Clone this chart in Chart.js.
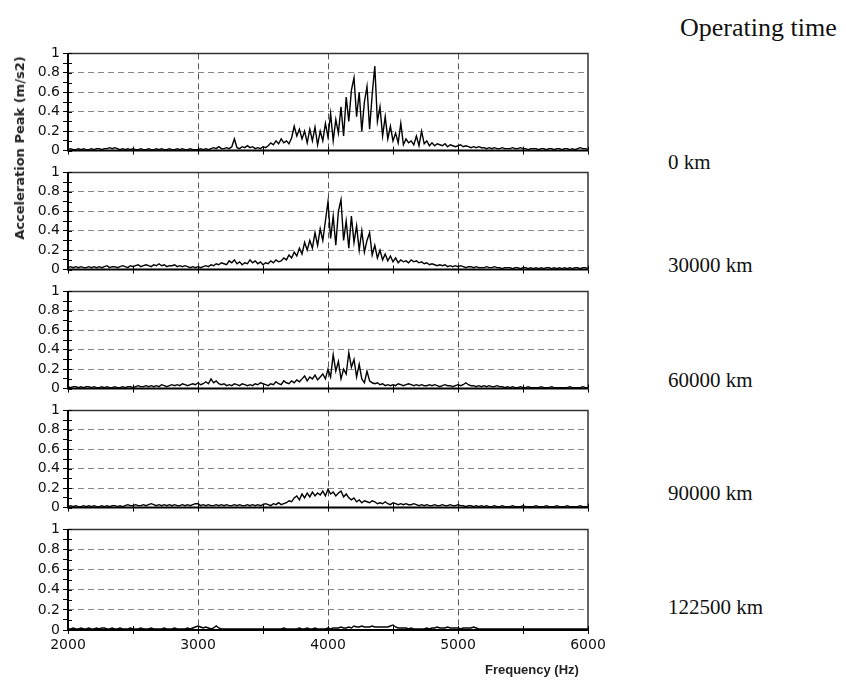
<!DOCTYPE html>
<html>
<head>
<meta charset="utf-8">
<script src="https://cdn.jsdelivr.net/npm/chart.js@4.4.1/dist/chart.umd.min.js"></script>
<style>
  body { margin: 0; background: #fff; }
  #wrap { position: relative; width: 846px; height: 684px; overflow: hidden; }
  canvas { position: absolute; left: 0; }
  .lbl { position: absolute; white-space: nowrap; color: #111; }
  .run { font-family: "Liberation Serif", serif; font-size: 21px; line-height: 21px; }
</style>
</head>
<body>
<div id="wrap"></div>
<script>
// spectra sampled every 20 Hz, 2000..6000 Hz
const FREQ_START = 2000;
const FREQ_STEP = 20;
const xTicks = [2000, 3000, 4000, 5000, 6000];
const yTicks = [0, 0.2, 0.4, 0.6, 0.8, 1];
const runLabels = ['0 km', '30000 km', '60000 km', '90000 km', '122500 km'];

const acc0km = [
  0.01,0.02,0.01,0.01,0.02,0.01,0.02,0.01,0.01,0.02,
  0.01,0.02,0.02,0.01,0.02,0.02,0.03,0.02,0.03,0.02,
  0.01,0.02,0.01,0.02,0.01,0.02,0.01,0.01,0.02,0.01,
  0.01,0.02,0.01,0.01,0.02,0.01,0.02,0.01,0.01,0.02,
  0.01,0.01,0.02,0.01,0.02,0.01,0.01,0.02,0.01,0.01,
  0.01,0.02,0.01,0.02,0.01,0.02,0.03,0.02,0.04,0.02,
  0.02,0.03,0.02,0.04,0.12,0.03,0.02,0.04,0.03,0.05,
  0.03,0.04,0.02,0.03,0.02,0.04,0.03,0.05,0.08,0.06,
  0.10,0.07,0.12,0.08,0.10,0.07,0.13,0.25,0.15,0.22,
  0.12,0.20,0.08,0.22,0.10,0.24,0.06,0.20,0.10,0.28,
  0.14,0.38,0.10,0.32,0.18,0.45,0.15,0.55,0.30,0.62,
  0.75,0.35,0.60,0.20,0.50,0.66,0.22,0.58,0.87,0.30,
  0.45,0.15,0.35,0.12,0.25,0.10,0.18,0.08,0.28,0.06,
  0.12,0.08,0.10,0.06,0.15,0.05,0.20,0.07,0.10,0.05,
  0.08,0.05,0.07,0.06,0.05,0.07,0.04,0.06,0.05,0.04,
  0.05,0.06,0.04,0.05,0.04,0.03,0.04,0.03,0.04,0.03,
  0.03,0.02,0.03,0.02,0.03,0.02,0.02,0.03,0.02,0.02,
  0.02,0.03,0.02,0.02,0.03,0.02,0.02,0.01,0.02,0.02,
  0.02,0.01,0.02,0.02,0.01,0.02,0.02,0.01,0.02,0.02,
  0.01,0.02,0.02,0.01,0.02,0.01,0.02,0.03,0.02,0.02,
  0.01
];

const acc30000km = [
  0.02,0.03,0.02,0.03,0.02,0.03,0.02,0.02,0.03,0.02,
  0.03,0.02,0.03,0.02,0.03,0.04,0.02,0.03,0.03,0.02,
  0.03,0.04,0.03,0.02,0.04,0.03,0.04,0.05,0.03,0.04,
  0.05,0.04,0.03,0.05,0.04,0.06,0.04,0.05,0.03,0.04,
  0.04,0.05,0.03,0.04,0.03,0.04,0.03,0.02,0.03,0.02,
  0.03,0.02,0.03,0.04,0.03,0.05,0.04,0.06,0.05,0.07,
  0.06,0.05,0.09,0.07,0.10,0.06,0.08,0.05,0.07,0.06,
  0.10,0.07,0.09,0.06,0.08,0.05,0.07,0.06,0.09,0.07,
  0.10,0.08,0.09,0.12,0.10,0.15,0.12,0.18,0.14,0.22,
  0.16,0.28,0.20,0.30,0.22,0.38,0.25,0.42,0.30,0.50,
  0.70,0.32,0.55,0.25,0.60,0.72,0.30,0.50,0.22,0.55,
  0.28,0.45,0.20,0.40,0.18,0.30,0.38,0.15,0.25,0.12,
  0.20,0.10,0.16,0.09,0.14,0.08,0.12,0.07,0.10,0.08,
  0.09,0.07,0.10,0.08,0.09,0.07,0.08,0.06,0.07,0.05,
  0.06,0.05,0.04,0.05,0.04,0.05,0.03,0.04,0.03,0.04,
  0.03,0.04,0.03,0.02,0.03,0.03,0.02,0.03,0.02,0.02,
  0.02,0.03,0.02,0.02,0.03,0.02,0.02,0.01,0.02,0.02,
  0.02,0.01,0.02,0.02,0.01,0.02,0.02,0.01,0.02,0.01,
  0.02,0.01,0.02,0.01,0.02,0.02,0.01,0.02,0.01,0.02,
  0.01,0.02,0.01,0.02,0.01,0.02,0.02,0.01,0.02,0.02,
  0.01
];

const acc60000km = [
  0.02,0.01,0.02,0.02,0.01,0.02,0.01,0.02,0.02,0.01,
  0.02,0.01,0.01,0.02,0.01,0.02,0.01,0.01,0.02,0.01,
  0.01,0.02,0.01,0.02,0.02,0.01,0.02,0.03,0.02,0.02,
  0.03,0.02,0.03,0.02,0.03,0.02,0.04,0.03,0.02,0.03,
  0.04,0.03,0.04,0.03,0.05,0.04,0.03,0.04,0.05,0.04,
  0.06,0.04,0.05,0.07,0.05,0.10,0.06,0.08,0.05,0.04,
  0.05,0.03,0.04,0.03,0.05,0.04,0.03,0.05,0.04,0.03,
  0.04,0.03,0.05,0.04,0.06,0.05,0.04,0.03,0.05,0.04,
  0.07,0.05,0.04,0.08,0.06,0.05,0.08,0.06,0.09,0.07,
  0.10,0.13,0.08,0.12,0.10,0.14,0.09,0.12,0.15,0.10,
  0.20,0.12,0.35,0.18,0.28,0.10,0.20,0.15,0.37,0.22,
  0.30,0.12,0.25,0.10,0.06,0.18,0.08,0.06,0.05,0.06,
  0.04,0.05,0.03,0.04,0.03,0.04,0.03,0.05,0.04,0.03,
  0.04,0.05,0.04,0.03,0.04,0.03,0.04,0.03,0.03,0.04,
  0.03,0.04,0.03,0.02,0.03,0.04,0.03,0.03,0.02,0.03,
  0.04,0.03,0.04,0.06,0.04,0.03,0.03,0.02,0.03,0.02,
  0.03,0.02,0.03,0.02,0.02,0.03,0.02,0.02,0.01,0.02,
  0.01,0.02,0.01,0.01,0.02,0.01,0.01,0.02,0.01,0.01,
  0.01,0.01,0.02,0.01,0.01,0.01,0.02,0.01,0.01,0.01,
  0.01,0.01,0.01,0.02,0.01,0.01,0.01,0.01,0.02,0.01,
  0.01
];

const acc90000km = [
  0.01,0.02,0.01,0.02,0.01,0.01,0.02,0.01,0.02,0.01,
  0.02,0.01,0.01,0.02,0.01,0.02,0.01,0.02,0.02,0.01,
  0.02,0.01,0.02,0.03,0.02,0.02,0.03,0.02,0.02,0.03,
  0.02,0.03,0.04,0.03,0.02,0.03,0.02,0.03,0.02,0.03,
  0.02,0.03,0.02,0.02,0.03,0.02,0.03,0.02,0.03,0.04,
  0.04,0.02,0.03,0.02,0.03,0.02,0.02,0.03,0.02,0.03,
  0.02,0.03,0.02,0.02,0.03,0.02,0.03,0.02,0.02,0.03,
  0.02,0.03,0.02,0.03,0.02,0.03,0.04,0.03,0.02,0.04,
  0.03,0.05,0.03,0.04,0.05,0.07,0.06,0.10,0.12,0.08,
  0.14,0.10,0.15,0.11,0.16,0.12,0.15,0.13,0.17,0.12,
  0.19,0.14,0.16,0.12,0.15,0.17,0.11,0.14,0.10,0.08,
  0.10,0.06,0.08,0.05,0.07,0.06,0.05,0.07,0.06,0.04,
  0.05,0.04,0.06,0.04,0.03,0.05,0.04,0.03,0.04,0.03,
  0.04,0.03,0.03,0.04,0.03,0.02,0.03,0.02,0.03,0.02,
  0.02,0.03,0.02,0.02,0.03,0.02,0.02,0.03,0.02,0.02,
  0.03,0.02,0.02,0.01,0.02,0.02,0.01,0.02,0.01,0.02,
  0.01,0.02,0.01,0.01,0.02,0.01,0.01,0.02,0.01,0.01,
  0.01,0.02,0.01,0.01,0.01,0.02,0.01,0.01,0.01,0.01,
  0.02,0.01,0.01,0.01,0.02,0.01,0.01,0.01,0.02,0.01,
  0.01,0.01,0.02,0.01,0.01,0.01,0.01,0.02,0.01,0.01,
  0.01
];

const acc122500km = [
  0.01,0.01,0.02,0.01,0.01,0.02,0.01,0.01,0.02,0.01,
  0.01,0.02,0.01,0.02,0.02,0.01,0.01,0.02,0.01,0.01,
  0.02,0.01,0.01,0.01,0.02,0.01,0.01,0.01,0.02,0.01,
  0.01,0.01,0.02,0.01,0.01,0.01,0.01,0.02,0.01,0.01,
  0.01,0.02,0.01,0.01,0.01,0.01,0.02,0.01,0.02,0.03,
  0.04,0.03,0.02,0.03,0.02,0.01,0.02,0.04,0.02,0.01,
  0.01,0.01,0.01,0.01,0.01,0.01,0.01,0.01,0.01,0.01,
  0.01,0.01,0.01,0.01,0.01,0.01,0.01,0.01,0.01,0.01,
  0.01,0.01,0.01,0.02,0.01,0.01,0.01,0.01,0.01,0.02,
  0.01,0.01,0.02,0.01,0.01,0.02,0.01,0.01,0.01,0.01,
  0.02,0.01,0.02,0.02,0.02,0.03,0.02,0.02,0.03,0.02,
  0.04,0.03,0.03,0.04,0.03,0.03,0.03,0.04,0.03,0.03,
  0.03,0.03,0.03,0.03,0.04,0.05,0.03,0.02,0.02,0.02,
  0.02,0.01,0.02,0.01,0.01,0.01,0.01,0.01,0.02,0.01,
  0.02,0.02,0.03,0.02,0.02,0.02,0.03,0.02,0.02,0.02,
  0.02,0.01,0.02,0.02,0.02,0.02,0.03,0.02,0.01,0.01,
  0.01,0.01,0.01,0.01,0.01,0.01,0.01,0.01,0.01,0.01,
  0.01,0.01,0.01,0.01,0.01,0.01,0.01,0.01,0.01,0.01,
  0.01,0.01,0.01,0.01,0.01,0.01,0.01,0.01,0.01,0.01,
  0.01,0.01,0.01,0.01,0.01,0.01,0.01,0.01,0.01,0.01,
  0.01
];

const panels = [acc0km, acc30000km, acc60000km, acc90000km, acc122500km];

// frame: left/bottom axis black, top/right dark grey, plus inner tick marks
const framePlugin = {
  id: 'frame',
  afterDraw(chart) {
    const { ctx, chartArea: a, scales: { x, y } } = chart;
    ctx.save();
    ctx.strokeStyle = '#333';
    ctx.lineWidth = 1.5;
    ctx.beginPath();
    ctx.moveTo(a.left, a.top); ctx.lineTo(a.right, a.top); ctx.lineTo(a.right, a.bottom);
    ctx.stroke();
    ctx.strokeStyle = '#000';
    ctx.lineWidth = 2;
    ctx.beginPath();
    ctx.moveTo(a.left, a.top); ctx.lineTo(a.left, a.bottom); ctx.lineTo(a.right, a.bottom);
    ctx.stroke();
    ctx.lineWidth = 1;
    ctx.beginPath();
    y.ticks.forEach(t => {
      const py = Math.round(y.getPixelForValue(t.value)) + 0.5;
      ctx.moveTo(a.left, py); ctx.lineTo(a.left + 4, py);
    });
    x.ticks.forEach(t => {
      const px = Math.round(x.getPixelForValue(t.value)) + 0.5;
      ctx.moveTo(px, a.bottom); ctx.lineTo(px, a.bottom - 4);
    });
    ctx.stroke();
    ctx.restore();
  }
};

const wrap = document.getElementById('wrap');
const PANEL_TOP = 50, PANEL_PITCH = 119, PANEL_H = 104;

panels.forEach((vals, k) => {
  const last = k === panels.length - 1;
  const xh = last ? 36 : 8;
  const cv = document.createElement('canvas');
  const h = 8 + PANEL_H + xh;
  cv.width = 610; cv.height = h;
  cv.style.top = (PANEL_TOP + PANEL_PITCH * k - 8) + 'px';
  cv.style.width = '610px'; cv.style.height = h + 'px';
  wrap.appendChild(cv);

  const points = vals.map((v, i) => ({ x: FREQ_START + FREQ_STEP * i, y: v }));

  new Chart(cv, {
    type: 'line',
    data: {
      datasets: [{
        data: points,
        borderColor: '#000',
        borderWidth: 1.4,
        pointRadius: 0,
        tension: 0,
        fill: false
      }]
    },
    options: {
      responsive: false,
      animation: false,
      events: [],
      layout: { padding: { top: 8, right: 22, left: 0, bottom: 0 } },
      plugins: { legend: { display: false }, tooltip: { enabled: false } },
      scales: {
        x: {
          type: 'linear',
          min: xTicks[0],
          max: xTicks[xTicks.length - 1],
          afterFit: s => { s.height = xh; },
          border: { display: false, dash: [6, 4] },
          grid: {
            color: c => (c.tick && c.tick.value % 1000 === 0 && c.tick.value > 2000 && c.tick.value < 6000) ? '#555' : 'rgba(0,0,0,0)',
            lineWidth: 1,
            tickColor: '#000',
            tickLength: 4,
            tickBorderDash: []
          },
          ticks: {
            display: last,
            stepSize: 500,
            autoSkip: false,
            maxRotation: 0,
            padding: 3,
            color: '#111',
            font: { family: 'DejaVu Sans', size: 14 },
            callback: v => xTicks.includes(v) ? String(v) : ''
          }
        },
        y: {
          min: 0,
          max: 1,
          afterFit: s => { s.width = 68; },
          border: { display: false, dash: [6, 4] },
          grid: {
            color: c => {
              if (!c.tick) return 'rgba(0,0,0,0)';
              const n = Math.round(c.tick.value * 10);
              return (n % 2 === 0 && n > 0 && n < 10) ? '#888' : 'rgba(0,0,0,0)';
            },
            lineWidth: 1,
            tickColor: '#000',
            tickLength: 5,
            tickBorderDash: []
          },
          ticks: {
            stepSize: 0.1,
            autoSkip: false,
            padding: 3,
            color: '#111',
            font: { family: 'DejaVu Sans', size: 14 },
            callback: v => {
              const n = Math.round(v * 10);
              return yTicks.includes(n / 10) ? String(n / 10) : '';
            }
          }
        }
      }
    },
    plugins: [framePlugin]
  });

  const lab = document.createElement('div');
  lab.className = 'lbl run';
  lab.textContent = runLabels[k];
  lab.style.left = '668px';
  lab.style.top = [152, 255, 370, 483, 597][k] + 'px';
  wrap.appendChild(lab);
});

const head = document.createElement('div');
head.className = 'lbl';
head.textContent = 'Operating time';
head.style.cssText += 'left:680px;top:14px;font-family:"Liberation Serif",serif;font-size:26px;line-height:28px;';
wrap.appendChild(head);

const yTitle = document.createElement('div');
yTitle.className = 'lbl';
yTitle.textContent = 'Acceleration Peak (m/s2)';
yTitle.style.cssText += 'left:20px;top:148px;font-family:"DejaVu Sans",sans-serif;font-weight:bold;font-size:13px;line-height:14px;transform:translate(-50%,-50%) rotate(-90deg);color:#222;';
wrap.appendChild(yTitle);

const xTitle = document.createElement('div');
xTitle.className = 'lbl';
xTitle.textContent = 'Frequency (Hz)';
xTitle.style.cssText += 'left:485px;top:662px;font-family:"Liberation Sans",sans-serif;font-weight:bold;font-size:13px;line-height:15px;color:#222;';
wrap.appendChild(xTitle);
</script>
</body>
</html>
